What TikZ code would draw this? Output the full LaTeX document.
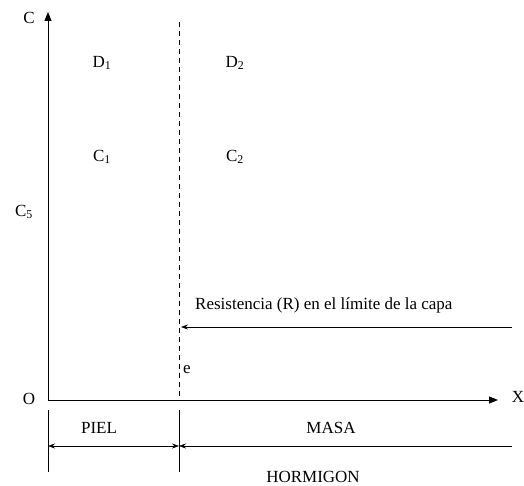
\documentclass[tikz,border=0pt]{standalone}
\usepackage{fontspec}
\setmainfont{Liberation Serif}
\usetikzlibrary{arrows.meta,positioning}
\tikzset{
  lbl/.style={font=\fontsize{17}{19}\selectfont, inner sep=1pt},
  axis/.style={-{Triangle[length=9pt,width=7pt]}, line width=0.9pt},
  dimarrow/.style={{Stealth[length=7pt,width=5pt]}-{Stealth[length=7pt,width=5pt]}, line width=0.6pt},
  leftarrow/.style={{Stealth[length=7pt,width=5pt]}-, line width=0.6pt},
  tick/.style={line width=0.6pt},
  layer/.style={dashed, dash pattern=on 5pt off 4pt, line width=0.6pt}
}
\begin{document}
\begin{tikzpicture}[x=1pt, y=-1pt]
\useasboundingbox (0,0) rectangle (524,486);
% axes
\coordinate (O) at (48,400);
\coordinate (ytop) at (48,12);
\coordinate (xend) at (498,400);
\draw[axis] (O) -- (ytop);
\draw[axis] (O) -- (xend);
\node[lbl] (Olbl) at (29,399) {O};
\node[lbl] (Clbl) at (29,18) {C};
\node[lbl] (Xlbl) at (518,397) {X};
\node[lbl] (C5) at (24,212) {C\textsubscript{5}};
% layer boundary
\coordinate (btop) at (179,22);
\coordinate (bbot) at (179,400);
\draw[layer] (btop) -- (bbot);
\node[lbl, anchor=west] (e) at (182,370) {e};
% regions
\node[lbl] (D1) at (102,63) {D\textsubscript{1}};
\node[lbl] (D2) at (235,63) {D\textsubscript{2}};
\node[lbl] (Cc1) at (102,157) {C\textsubscript{1}};
\node[lbl] (Cc2) at (235,157) {C\textsubscript{2}};
% resistance
\coordinate (rstart) at (512,327);
\coordinate (rend) at (181,327);
\draw[leftarrow] (rend) -- (rstart);
\node[lbl, anchor=west] (res) at (194,305) {Resistencia (R) en el límite de la capa};
% dimensions
\coordinate (t1a) at (48,410);
\coordinate (t1b) at (48,472);
\coordinate (t2a) at (179,410);
\coordinate (t2b) at (179,472);
\draw[tick] (t1a) -- (t1b);
\draw[tick] (t2a) -- (t2b);
\coordinate (p1) at (48,446);
\coordinate (p2) at (179,446);
\coordinate (p3) at (512,446);
\draw[dimarrow] (p1) -- (p2);
\draw[leftarrow] (p2) -- (p3);
\node[lbl] (piel) at (99,428) {PIEL};
\node[lbl] (masa) at (331,428) {MASA};
\node[lbl] (horm) at (313,477) {HORMIGON};
\end{tikzpicture}
\end{document}
